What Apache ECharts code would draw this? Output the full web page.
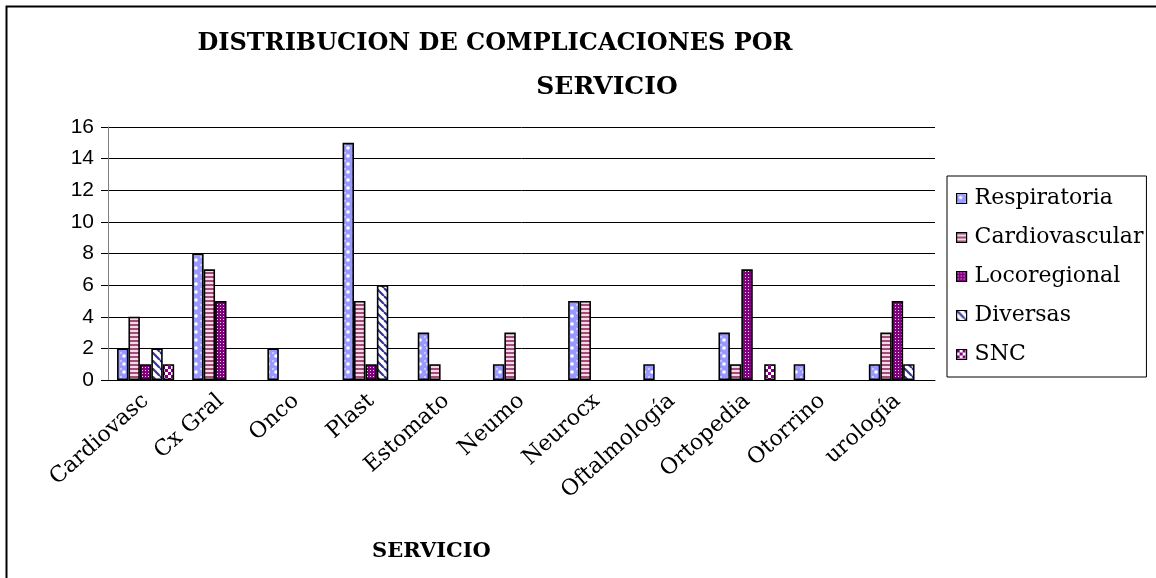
<!DOCTYPE html>
<html>
<head>
<meta charset="utf-8">
<script src="https://cdn.jsdelivr.net/npm/echarts@6/dist/echarts.min.js"></script>
<style>
  html, body { margin: 0; padding: 0; background: #fff; }
  #chart { width: 1156px; height: 578px; }
</style>
</head>
<body>
<div id="chart"></div>
<script>
// datos
const servicios = ['Cardiovasc', 'Cx Gral', 'Onco', 'Plast', 'Estomato', 'Neumo',
  'Neurocx', 'Oftalmología', 'Ortopedia', 'Otorrino', 'urología'];
const respiratoria   = [2, 8, 2, 15, 3, 1, 5, 1, 3, 1, 1];
const cardiovascular = [4, 7, 0, 5, 1, 3, 5, 0, 1, 0, 3];
const locoregional   = [1, 5, 0, 1, 0, 0, 0, 0, 7, 0, 5];
const diversas       = [2, 0, 0, 6, 0, 0, 0, 0, 0, 0, 1];
const snc            = [1, 0, 0, 0, 0, 0, 0, 0, 1, 0, 0];
const yTicks = [0, 2, 4, 6, 8, 10, 12, 14, 16];

// tramas tipo Excel
function pattern(size, paint) {
  const c = document.createElement('canvas');
  c.width = size; c.height = size;
  paint(c.getContext('2d'), size);
  return { image: c, repeat: 'repeat' };
}
const patResp = pattern(8, (g, s) => {
  g.fillStyle = '#9999ff'; g.fillRect(0, 0, s, s);
  g.fillStyle = '#ffffff';
  g.beginPath(); g.arc(4, 4, 1.8, 0, Math.PI * 2); g.fill();
  g.fillStyle = '#c8c8ff'; g.fillRect(0, 0, 2, 2);
});
const patCardio = pattern(4, (g, s) => {
  g.fillStyle = '#a34a78'; g.fillRect(0, 0, s, 2);
  g.fillStyle = '#f2dbe6'; g.fillRect(0, 2, s, 2);
});
const patLoco = pattern(3, (g, s) => {
  g.fillStyle = '#800080'; g.fillRect(0, 0, s, s);
  g.fillStyle = '#f0d8f0'; g.fillRect(1, 1, 1, 1);
});
const patDiv = pattern(8, (g, s) => {
  g.fillStyle = '#ffffff'; g.fillRect(0, 0, s, s);
  g.strokeStyle = '#333399'; g.lineWidth = 2.2;
  for (let k = -s; k <= s; k += s) {
    g.beginPath(); g.moveTo(k, 0); g.lineTo(k + s, s); g.stroke();
  }
});
const patSnc = pattern(6, (g, s) => {
  g.fillStyle = '#ffffff'; g.fillRect(0, 0, s, s);
  g.fillStyle = '#800080';
  g.fillRect(0, 0, 3, 3); g.fillRect(3, 3, 3, 3);
});

const serif = 'DejaVu Serif';

function serie(name, data, fill) {
  return {
    name: name,
    type: 'bar',
    // los ceros no se dibujan en el original
    data: data.map(v => (v === 0 ? '-' : v)),
    barGap: '0%',
    barCategoryGap: '24%',
    itemStyle: { color: fill, borderColor: '#000', borderWidth: 1.6 }
  };
}

const chart = echarts.init(document.getElementById('chart'));
chart.setOption({
  animation: false,
  backgroundColor: '#fff',
  title: [
    {
      text: 'DISTRIBUCION DE COMPLICACIONES POR',
      left: 490, top: 27, textAlign: 'center',
      textStyle: { fontFamily: serif, fontWeight: 'bold', fontSize: 24, color: '#000' }
    },
    {
      text: 'SERVICIO',
      left: 602, top: 70, textAlign: 'center',
      textStyle: { fontFamily: serif, fontWeight: 'bold', fontSize: 25, color: '#000' }
    }
  ],
  legend: {
    orient: 'vertical',
    left: 947, top: 176,
    padding: [10, 3, 10, 9],
    itemGap: 14,
    itemWidth: 10, itemHeight: 10,
    icon: 'rect',
    borderColor: '#000', borderWidth: 1,
    itemStyle: { borderColor: '#000', borderWidth: 1.2 },
    textStyle: { fontFamily: serif, fontSize: 22, color: '#000', lineHeight: 25, padding: [0, 0, 0, 3] },
    data: ['Respiratoria', 'Cardiovascular', 'Locoregional', 'Diversas', 'SNC']
  },
  grid: { left: 108, right: 221, top: 127, bottom: 198 },
  xAxis: {
    type: 'category',
    data: servicios,
    axisLine: { lineStyle: { color: '#000', width: 1 } },
    axisTick: { length: 7, lineStyle: { color: '#000' } },
    axisLabel: {
      rotate: 42, margin: 18, interval: 0,
      fontFamily: serif, fontSize: 22, color: '#000'
    }
  },
  yAxis: {
    type: 'value',
    min: yTicks[0], max: yTicks[yTicks.length - 1], interval: 2,
    axisLine: { show: true, lineStyle: { color: '#808080' } },
    axisTick: { show: true, length: 7, lineStyle: { color: '#000' } },
    axisLabel: { fontFamily: 'Liberation Sans', fontSize: 21, color: '#000', margin: 14 },
    splitLine: { lineStyle: { color: '#000', width: 1 } }
  },
  graphic: [
    {
      type: 'rect', left: 4, top: 4, silent: true,
      shape: { width: 1200, height: 620 },
      style: { fill: 'none', stroke: '#000', lineWidth: 2 }
    },
    {
      type: 'text', left: 372, top: 541,
      style: { text: 'SERVICIO', fontFamily: serif, fontWeight: 'bold', fontSize: 21, fill: '#000' }
    }
  ],
  series: [
    serie('Respiratoria', respiratoria, patResp),
    serie('Cardiovascular', cardiovascular, patCardio),
    serie('Locoregional', locoregional, patLoco),
    serie('Diversas', diversas, patDiv),
    serie('SNC', snc, patSnc)
  ]
});
</script>
</body>
</html>
